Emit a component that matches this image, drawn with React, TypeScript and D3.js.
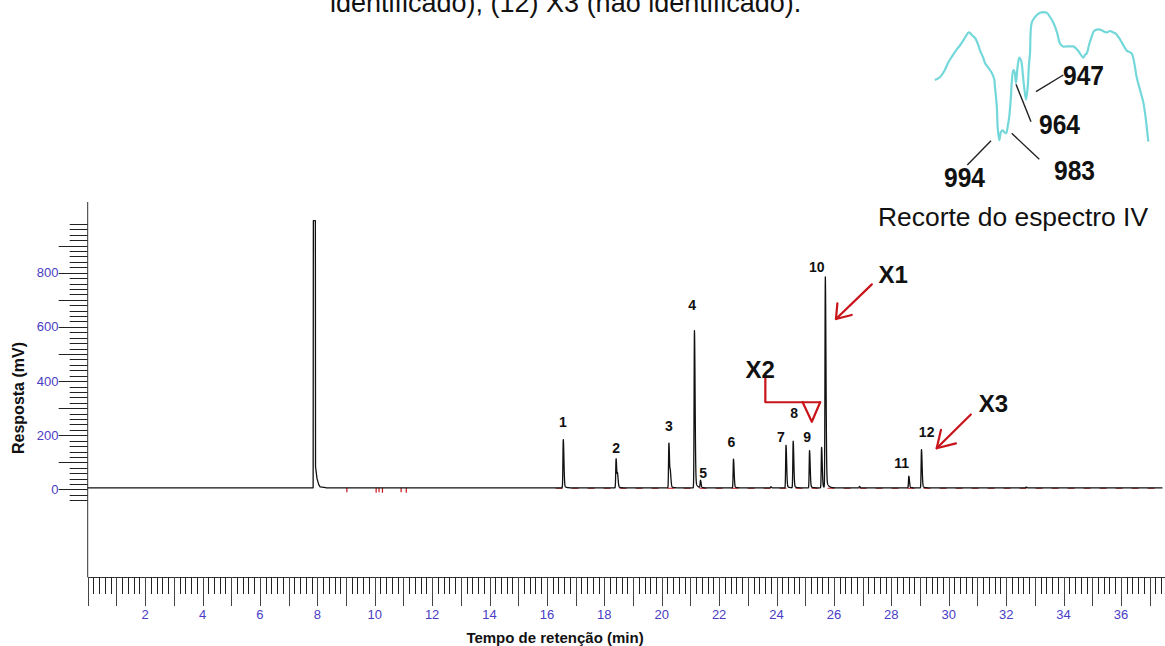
import React from "react";
import * as d3 from "d3";

// ---------- Data ----------
// Chromatogram: solvent peak (flat saturated top)
const SOLVENT_T = [7.6, 7.855, 7.862, 7.932, 7.938, 7.99, 8.05, 8.1, 8.3];
const SOLVENT_V = [6, 6, 992, 992, 84, 40, 18, 10, 7];
// Numbered peaks + small features: retention time (min), height above baseline (mV)
const PEAK_T = [16.57, 18.41, 20.25, 21.14, 21.35, 22.5, 24.33, 24.58, 25.15, 25.57, 25.7, 28.61, 29.05, 23.8, 26.89, 32.7, 18.46, 20.3];
const PEAK_H = [179, 108, 166, 580, 27, 106, 158, 172, 138, 150, 777, 43, 142, 4, 5, 3, 45, 50];
const BASELINE = 6;
// small negative artefacts (red) near 9–11 min
const DIP_T = [9.03, 10.05, 10.15, 10.27, 10.92, 11.1];
const DIP_V = [-10, -12, -10, -12, -10, -12];
// peak labels (text, time, mV of label baseline)
const LABEL_TEXT = ["1", "2", "3", "4", "5", "6", "7", "8", "9", "10", "11", "12"];
const LABEL_T = [16.56, 18.41, 20.25, 21.06, 21.44, 22.43, 24.15, 24.61, 25.07, 25.4, 28.36, 29.23];
const LABEL_V = [232, 135, 217, 662, 44, 156, 174, 265, 174, 801, 80, 195];

// axis ticks
const X_LABELS = [2, 4, 6, 8, 10, 12, 14, 16, 18, 20, 22, 24, 26, 28, 30, 32, 34, 36];
const Y_LABELS = [0, 200, 400, 600, 800];

// IR spectrum cut (wavenumber cm-1, transmittance %)
const IR_WN = [1098, 1090, 1082, 1077, 1070, 1064, 1057, 1051, 1043, 1038, 1033, 1028, 1025, 1020, 1017, 1012, 1006, 1002.5, 1001, 998, 996.6, 994, 991.3, 988.5, 986.4, 983.2, 980, 977.9, 975.1, 974, 971.4, 969.5, 967.1, 964.6, 961.7, 959, 957.9, 954.2, 950.9, 948.2, 946.1, 944.5, 941.7, 936.4, 928.4, 917.5, 912.2, 906.9, 900.9, 896.1, 891.3, 885.3, 880, 874.6, 867.1, 858.5, 855.8, 853, 849.3, 845, 841.3, 836.9, 831.6, 820.8, 815.5, 810.1, 805.8, 799.3, 792.9, 788.5, 780.5, 776.7, 772.4, 767.1, 761.7, 757.4, 753.7];
const IR_T = [50, 52, 57, 62, 67, 71, 75, 79, 84, 82, 80, 75, 71, 66, 62, 59, 55, 51, 45, 31, 16, 7, 13, 14, 13, 12, 18, 24, 39, 48, 57, 56, 48, 59, 66, 64, 62, 46, 36, 45, 61, 69, 91, 95, 98, 98, 95, 91, 84, 76, 74, 74, 74, 74, 71, 66, 68, 69, 75, 81, 85, 86, 86, 84, 85, 84, 83, 79, 74, 71, 69, 63, 52, 43, 34, 21, 6];
const IR_LABELS = ["947", "964", "983", "994"];

// ---------- Layout ----------
const W = 1165, H = 646;
const FONT = "Arial, 'Liberation Sans', Helvetica, sans-serif";
const AXIS_BLUE = "#4a3cc4";
const RED = "#c8141a";

const x = d3.scaleLinear().domain([0, 37.5]).range([87.7, 1164]);
const y = d3.scaleLinear().domain([-323, 1061]).range([577, 202]);

const irX = d3.scaleLinear().domain([994, 754]).range([999.3, 1148.1]);
const irY = d3.scaleLinear().domain([0, 100]).range([150, 10]);

// label layout for IR inset (pixel positions: text left, baseline, leader from -> to)
const IR_LAYOUT = [
  { tx: 1063, ty: 85, l: [1036, 91.7, 1063.3, 75] },
  { tx: 1039, ty: 133.5, l: [1016, 84.3, 1031, 121.7] },
  { tx: 1054, ty: 179.5, l: [1011.7, 133.3, 1039.3, 159.3] },
  { tx: 944, ty: 187, l: [991, 140.7, 967.3, 165] },
];

function peakShape(dt: number) {
  if (dt < 0) return Math.exp(-(dt * dt) / (2 * 0.012 * 0.012));
  return 0.93 * Math.exp(-(dt * dt) / (2 * 0.022 * 0.022)) + 0.07 * Math.exp(-dt / 0.06);
}

function buildTrace() {
  const pts: [number, number][] = [];
  pts.push([0, BASELINE]);
  for (let i = 0; i < SOLVENT_T.length; i++) pts.push([SOLVENT_T[i], SOLVENT_V[i]]);
  const step = 0.004;
  for (let t = 8.3; t <= 37.45; t += step) {
    let v = BASELINE;
    for (let k = 0; k < PEAK_T.length; k++) {
      const dt = t - PEAK_T[k];
      if (dt > -0.1 && dt < 0.6) v += PEAK_H[k] * peakShape(dt);
    }
    pts.push([t, v]);
  }
  return pts;
}

export default function App() {
  const trace = buildTrace();
  const line = d3
    .line<[number, number]>()
    .x((d) => x(d[0]))
    .y((d) => y(d[1]));
  const irLine = d3
    .line<number>()
    .x((_, i) => irX(IR_WN[i]))
    .y((_, i) => irY(IR_T[i]))
    .curve(d3.curveCatmullRom.alpha(0.5));

  const xTicks = d3.range(0, 188).map((i) => ({ t: i / 5, major: i % 5 === 0 }));
  const yTicks = d3.range(-2, 50).map((i) => ({ v: i * 20, major: i % 5 === 0 }));

  const pA = (t: number, v: number) => `${x(t)},${y(v)}`;

  return (
    <svg
      width={W}
      height={H}
      style={{ position: "absolute", left: 0, top: 0, background: "#fff" }}
      fontFamily={FONT}
    >
      <rect x={0} y={0} width={W} height={H} fill="#fff" />
      {/* Caption fragment at top */}
      <text x={330} y={12} fontSize={27} fill="#111">
        identificado); (12) X3 (não identificado).
      </text>

      {/* IR inset */}
      <path d={irLine(IR_WN.map((_, i) => i)) || ""} fill="none" stroke="#74d8da" strokeWidth={2.2} />
      {IR_LAYOUT.map((L, i) => (
        <g key={IR_LABELS[i]}>
          <line x1={L.l[0]} y1={L.l[1]} x2={L.l[2]} y2={L.l[3]} stroke="#222" strokeWidth={1.4} />
          <text
            x={L.tx}
            y={L.ty}
            fontSize={28}
            fontWeight="bold"
            textLength={41}
            lengthAdjust="spacingAndGlyphs"
            fill="#111"
          >
            {IR_LABELS[i]}
          </text>
        </g>
      ))}
      <text x={878} y={226} fontSize={26} textLength={270} lengthAdjust="spacingAndGlyphs" fill="#111">
        Recorte do espectro IV
      </text>

      {/* Y axis */}
      <line x1={x(0)} y1={202} x2={x(0)} y2={577} stroke="#333" strokeWidth={1} />
      {yTicks.map((d) => (
        <line
          key={"yt" + d.v}
          x1={x(0) - (d.major ? 29 : 18)}
          x2={x(0)}
          y1={Math.round(y(d.v)) + 0.5}
          y2={Math.round(y(d.v)) + 0.5}
          stroke="#222"
          strokeWidth={1}
        />
      ))}
      {Y_LABELS.map((v) => (
        <text key={"yl" + v} x={58.5} y={y(v) + 4.5} fontSize={13} fill={AXIS_BLUE} textAnchor="end">
          {v}
        </text>
      ))}
      <text
        transform={`translate(24,398) rotate(-90)`}
        fontSize={16}
        fontWeight="bold"
        textAnchor="middle"
        fill="#111"
      >
        Resposta (mV)
      </text>

      {/* X axis */}
      <line x1={x(0)} y1={577.5} x2={W} y2={577.5} stroke="#333" strokeWidth={1} />
      {xTicks.map((d) => (
        <line
          key={"xt" + d.t}
          x1={Math.round(x(d.t)) + 0.5}
          x2={Math.round(x(d.t)) + 0.5}
          y1={577}
          y2={577 + (d.major ? 29 : 17)}
          stroke={d.major ? "#444" : "#222"}
          strokeWidth={1}
        />
      ))}
      {X_LABELS.map((t) => (
        <text key={"xl" + t} x={x(t)} y={619} fontSize={13} fill={AXIS_BLUE} textAnchor="middle">
          {t}
        </text>
      ))}
      <text x={555} y={643} fontSize={15} fontWeight="bold" textAnchor="middle" fill="#111">
        Tempo de retenção (min)
      </text>

      {/* red baseline segments and dips */}
      <path
        d={line([[16.3, BASELINE - 1.5], [37.45, BASELINE - 1.5]]) || ""}
        stroke={RED}
        strokeWidth={1}
        strokeDasharray="7 9"
        fill="none"
      />
      {DIP_T.map((t, i) => (
        <line key={"dip" + i} x1={x(t)} x2={x(t)} y1={y(BASELINE)} y2={y(DIP_V[i])} stroke={RED} strokeWidth={1.2} />
      ))}

      {/* chromatogram trace */}
      <path d={line(trace) || ""} fill="none" stroke="#111" strokeWidth={1.3} strokeLinejoin="round" />

      {/* peak labels */}
      {LABEL_TEXT.map((s, i) => (
        <text
          key={"pl" + s}
          x={x(LABEL_T[i])}
          y={y(LABEL_V[i])}
          fontSize={14}
          fontWeight="bold"
          textAnchor="middle"
          fill="#111"
        >
          {s}
        </text>
      ))}

      {/* annotations X1, X2, X3 */}
      <g fill="none" stroke={RED} strokeWidth={2.2} strokeLinecap="round" strokeLinejoin="round">
        <line x1={x(27.32)} y1={y(757)} x2={x(26.07)} y2={y(629)} />
        <polyline points={`${pA(26.12, 687)} ${pA(26.07, 629)} ${pA(26.62, 644)}`} />
        <polyline points={`${pA(23.61, 410)} ${pA(23.61, 322)} ${pA(25.52, 322)}`} />
        <polyline points={`${pA(24.91, 322)} ${pA(25.23, 250)} ${pA(25.52, 322)}`} />
        <line x1={x(30.77)} y1={y(277)} x2={x(29.58)} y2={y(152)} />
        <polyline points={`${pA(29.73, 220)} ${pA(29.58, 152)} ${pA(30.25, 170)}`} />
      </g>
      <text x={x(28.06)} y={y(761)} fontSize={24} fontWeight="bold" textAnchor="middle" fill="#111">
        X1
      </text>
      <text x={x(23.43)} y={y(411)} fontSize={24} fontWeight="bold" textAnchor="middle" fill="#111">
        X2
      </text>
      <text x={x(31.56)} y={y(287)} fontSize={24} fontWeight="bold" textAnchor="middle" fill="#111">
        X3
      </text>
    </svg>
  );
}
